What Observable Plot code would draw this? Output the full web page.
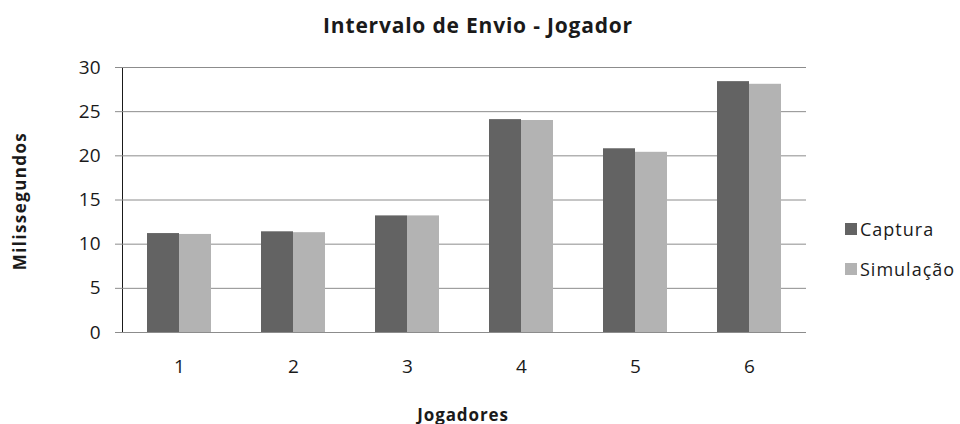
<!DOCTYPE html>
<html>
<head>
<meta charset="utf-8">
<script src="https://cdn.jsdelivr.net/npm/d3@7"></script>
<script src="https://cdn.jsdelivr.net/npm/@observablehq/plot@0.6"></script>
<style>
  html, body { margin: 0; padding: 0; background: #fff; }
  #wrap { position: relative; width: 960px; height: 424px; font-family: "Open Sans", Lato, sans-serif; color: #1a1a1a; }
  #wrap svg { position: absolute; left: 0; top: 0; }
  .title { position: absolute; left: 478px; top: 25px; transform: translate(-50%, -50%); font-weight: bold; font-size: 21px; letter-spacing: 0.8px; white-space: nowrap; }
  .ylab { position: absolute; left: 19px; top: 201px; transform: translate(-50%, -50%) rotate(-90deg); font-weight: bold; font-size: 17px; letter-spacing: 1.4px; white-space: nowrap; }
  .xlab { position: absolute; left: 463px; top: 414px; transform: translate(-50%, -50%); font-weight: bold; font-size: 17px; letter-spacing: 0.9px; white-space: nowrap; }
  .legend { position: absolute; left: 845px; top: 217px; font-size: 18px; letter-spacing: 1px; }
  .legend .item { display: flex; align-items: center; height: 24px; margin-bottom: 16px; }
  .legend .sw { width: 12px; height: 12px; margin-right: 3px; }
  g[aria-label^="y-axis"] line, g[aria-label^="y-axis"] path { stroke: #8c8c8c; }
  g[aria-label^="y-axis"] text, g[aria-label^="fx-axis"] text { fill: #1a1a1a; }
</style>
</head>
<body>
<div id="wrap"></div>
<script>
const title = "Intervalo de Envio - Jogador";
const yLabel = "Milissegundos";
const xLabel = "Jogadores";
const players = ["1", "2", "3", "4", "5", "6"];
const series = ["Captura", "Simulação"];
const captura = [11.2, 11.4, 13.2, 24.1, 20.8, 28.4];
const simulacao = [11.1, 11.3, 13.2, 24.0, 20.4, 28.1];
const yTicks = [0, 5, 10, 15, 20, 25, 30];
const colors = ["#636363", "#b3b3b3"];

const values = [captura, simulacao];
const data = [];
players.forEach((p, i) => series.forEach((s, j) => data.push({player: p, series: s, value: values[j][i]})));

const chart = Plot.plot({
  width: 960,
  height: 424,
  marginTop: 67,
  marginBottom: 92,
  marginLeft: 120,
  marginRight: 153,
  style: {fontFamily: "'Open Sans', Lato, sans-serif", fontSize: "19px", color: "#1a1a1a", background: "transparent"},
  fx: {domain: players, padding: 0, label: null, tickSize: 0, tickPadding: 27},
  x: {domain: series, axis: null, paddingInner: 0, paddingOuter: 0.735},
  y: {domain: [0, 30], ticks: yTicks, tickSize: 7, tickPadding: 15, label: null, line: true},
  color: {domain: series, range: colors},
  marks: [
    Plot.ruleY(yTicks, {stroke: "#8c8c8c"}),
    Plot.barY(data, {fx: "player", x: "series", y: "value", fill: "series"})
  ]
});

const wrap = document.getElementById("wrap");
wrap.appendChild(chart);

const t = document.createElement("div"); t.className = "title"; t.textContent = title; wrap.appendChild(t);
const yl = document.createElement("div"); yl.className = "ylab"; yl.textContent = yLabel; wrap.appendChild(yl);
const xl = document.createElement("div"); xl.className = "xlab"; xl.textContent = xLabel; wrap.appendChild(xl);
const lg = document.createElement("div"); lg.className = "legend";
series.forEach((s, i) => {
  const it = document.createElement("div"); it.className = "item";
  const sw = document.createElement("span"); sw.className = "sw"; sw.style.background = colors[i];
  const tx = document.createElement("span"); tx.textContent = s;
  it.appendChild(sw); it.appendChild(tx); lg.appendChild(it);
});
wrap.appendChild(lg);
</script>
</body>
</html>
